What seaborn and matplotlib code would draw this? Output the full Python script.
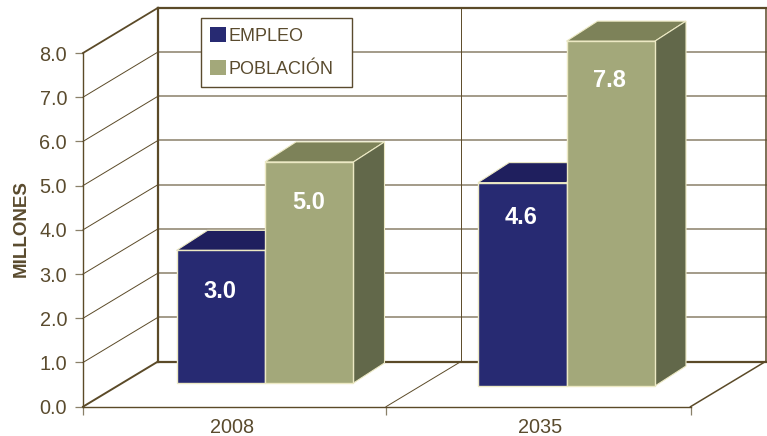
import matplotlib
matplotlib.use('Agg')
import matplotlib.pyplot as plt
from matplotlib.patches import Polygon
import pandas as pd
import seaborn as sns

# Values
years = ['2008', '2035']
series = ['EMPLEO', 'POBLACIÓN']
empleo = [3.0, 4.6]
poblacion = [5.0, 7.8]
y_ticks = [0, 1, 2, 3, 4, 5, 6, 7, 8]
axis_title = 'MILLONES'

# Colours
TEXT = '#5a4b2e'
DARK = '#5b4a28'
GRID = '#8a8069'
EDGE = '#ece9c4'
FRONT = {'EMPLEO': '#272a72', 'POBLACIÓN': '#a3a87a'}
TOP = {'EMPLEO': '#1f1f5e', 'POBLACIÓN': '#7d8259'}
SIDE = {'EMPLEO': '#1a1a4e', 'POBLACIÓN': '#62684a'}

# Pixel layout of the faked 3D box
W, H = 767, 436
LEFT, RIGHT, FLOOR, CEIL = 83, 767, 406.7, 53
PX_X = 301.5   # pixels between the two groups
PX_Y = (FLOOR - CEIL) / 8
WALL_DX, WALL_DY = 75 / PX_X, 45.2 / PX_Y
BAR_DX, BAR_DY = 31 / PX_X, 20 / PX_Y
FIRST_CENTER = 265


def to_x(px):
    return (px - FIRST_CENTER) / PX_X


sns.set_style('white')
plt.rcParams['font.family'] = ['Liberation Sans', 'DejaVu Sans']

df = pd.DataFrame({
    'year': years * 2,
    'serie': [series[0]] * 2 + [series[1]] * 2,
    'value': empleo + poblacion,
})

fig = plt.figure(figsize=(W / 100, H / 100), dpi=100)
ax = fig.add_axes([LEFT / W, (H - FLOOR) / H, (RIGHT - LEFT) / W, (FLOOR - CEIL) / H])
ax.patch.set_alpha(0)

sns.barplot(data=df, x='year', y='value', hue='serie', hue_order=series,
            palette=FRONT, width=0.587, gap=0, saturation=1, legend=False,
            edgecolor=EDGE, linewidth=1, ax=ax)

ax.set_xlim(to_x(LEFT), to_x(RIGHT))
ax.set_ylim(0, 8)

# Bars stand in the middle of the floor, the second group a little closer
base = [23.7 / PX_Y, 20.7 / PX_Y]
label_drop = {'3.0': 41, '5.0': 41, '4.6': 35, '7.8': 39}
for container, name in zip(ax.containers, series):
    for i, bar in enumerate(container):
        bar.set_y(base[i])
        bar.set_clip_on(False)
        bar.set_zorder(5 if name == series[1] else 4)
        x0, x1 = bar.get_x(), bar.get_x() + bar.get_width()
        y0, y1 = bar.get_y(), bar.get_y() + bar.get_height()
        top = [(x0, y1), (x1, y1), (x1 + BAR_DX, y1 + BAR_DY), (x0 + BAR_DX, y1 + BAR_DY)]
        side = [(x1, y0), (x1, y1), (x1 + BAR_DX, y1 + BAR_DY), (x1 + BAR_DX, y0 + BAR_DY)]
        ax.add_patch(Polygon(top, fc=TOP[name], ec=EDGE, lw=0.8, zorder=bar.get_zorder() - 0.5, clip_on=False))
        ax.add_patch(Polygon(side, fc=SIDE[name], ec=EDGE, lw=0.8, zorder=bar.get_zorder() - 0.5, clip_on=False))
        txt = f'{bar.get_height():.1f}'
        ax.annotate(txt, ((x0 + x1) / 2, y1), xytext=(-1, -label_drop[txt]),
                    textcoords='offset pixels', ha='center', va='center', annotation_clip=False,
                    color='white', fontsize=17, fontweight='bold', zorder=6)

# Walls and floor
wall_x = to_x(LEFT) + WALL_DX
right_x = to_x(RIGHT - 1.5)
mid_front = to_x(386)
end_front = right_x - WALL_DX
line = dict(clip_on=False, zorder=1, solid_capstyle='projecting')
for v in y_ticks[1:-1]:
    ax.plot([wall_x, right_x], [v + WALL_DY] * 2, color=GRID, lw=1.1, **line)
    ax.plot([to_x(LEFT), wall_x], [v, v + WALL_DY], color=DARK, lw=0.7, **line)
ax.plot([wall_x, right_x], [8 + WALL_DY] * 2, color=DARK, lw=1.6, **line)
ax.plot([wall_x, right_x], [WALL_DY] * 2, color=DARK, lw=1.6, **line)
ax.plot([wall_x, wall_x], [WALL_DY, 8 + WALL_DY], color=DARK, lw=1.6, **line)
ax.plot([mid_front + WALL_DX] * 2, [WALL_DY, 8 + WALL_DY], color=DARK, lw=0.7, **line)
ax.plot([right_x, right_x], [WALL_DY, 8 + WALL_DY], color=DARK, lw=1.1, **line)
ax.plot([to_x(LEFT), wall_x], [8, 8 + WALL_DY], color=DARK, lw=1.3, **line)
ax.plot([to_x(LEFT), wall_x], [0, WALL_DY], color=DARK, lw=1.4, **line)
ax.plot([mid_front, mid_front + WALL_DX], [0, WALL_DY], color=DARK, lw=0.7, **line)
ax.plot([end_front, right_x], [0, WALL_DY], color=DARK, lw=1.1, **line)

# Axes
sns.despine(ax=ax, top=True, right=True)
for name in ['left', 'bottom']:
    ax.spines[name].set_color(DARK)
    ax.spines[name].set_linewidth(1.0)
ax.spines['bottom'].set_bounds(to_x(LEFT), end_front)
ax.set_yticks(y_ticks, labels=[f'{v:.1f}' for v in y_ticks])
ax.set_xticks([to_x(LEFT), mid_front, end_front], labels=['', '', ''])
ax.set_xticks([to_x(232), to_x(540)], labels=years, minor=True)
ax.tick_params(axis='y', left=True, length=6, width=0.9, color=GRID, labelsize=14.3, labelcolor=TEXT, pad=5.5)
ax.tick_params(axis='x', which='major', bottom=True, length=6, width=0.9, color=GRID)
ax.tick_params(axis='x', which='minor', bottom=False, length=0, labelsize=14.3, labelcolor=TEXT, pad=8)
ax.set_xlabel('')
ax.set_ylabel('')
fig.text(21 / W, 1 - 229 / H, axis_title, rotation=90, ha='center', va='center',
         color=TEXT, fontsize=13.5, fontweight='bold')

# Legend
handles = [plt.Rectangle((0, 0), 1, 1, fc=FRONT[s], ec='none') for s in series]
leg = ax.legend(handles, series, loc='upper left', mode='expand',
                bbox_to_anchor=(201 / W, 1 - 87 / H, 151 / W, 69 / H),
                bbox_transform=fig.transFigure, frameon=True, fancybox=False, framealpha=1,
                edgecolor=TEXT, facecolor='white', fontsize=13, labelcolor=TEXT,
                handlelength=0.9, handleheight=0.9, handletextpad=0.15,
                labelspacing=0.85, borderaxespad=0, borderpad=0.5)
leg.get_frame().set_linewidth(1.0)
leg.set_zorder(3)

fig.savefig('out.png', dpi=100)
